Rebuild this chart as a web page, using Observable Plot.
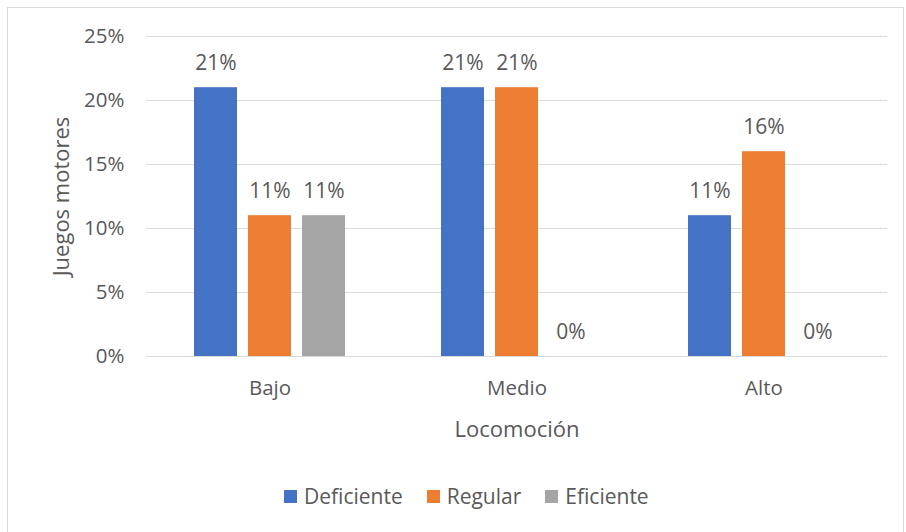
<!DOCTYPE html>
<html>
<head>
<meta charset="utf-8">
<script src="https://cdn.jsdelivr.net/npm/d3@7"></script>
<script src="https://cdn.jsdelivr.net/npm/@observablehq/plot@0.6"></script>
<style>
  html, body { margin: 0; padding: 0; background: #fff; }
  body { width: 906px; height: 532px; position: relative; overflow: hidden; font-family: "Open Sans", sans-serif; }
  #frame { position: absolute; left: 7px; top: 7px; width: 897px; height: 530px; border: 1px solid #d9d9d9; box-sizing: border-box; }
  #chart { position: absolute; left: 0; top: 0; }
  #legend { position: absolute; left: 284px; top: 482px; display: flex; align-items: center; font-size: 21px; color: #595959; white-space: nowrap; }
  #legend span.item { display: flex; align-items: center; margin-right: 24px; }
  #legend span.sw { display: inline-block; width: 13px; height: 13px; margin-right: 7px; }
  #chart svg [aria-label="fx-axis label"] text, #chart svg [aria-label="y-axis label"] text { font-size: 22px; }
</style>
</head>
<body>
<div id="frame"></div>
<div id="chart"></div>
<div id="legend"></div>
<script>
const categories = ["Bajo", "Medio", "Alto"];
const series = ["Deficiente", "Regular", "Eficiente"];
const deficiente = [0.21, 0.21, 0.11];
const regular = [0.11, 0.21, 0.16];
const eficiente = [0.11, 0.00, 0.00];
const valueLabels = [["21%", "21%", "11%"], ["11%", "21%", "16%"], ["11%", "0%", "0%"]];
const yTicks = [0, 0.05, 0.10, 0.15, 0.20, 0.25];
const colors = ["#4472C4", "#ED7D31", "#A5A5A5"];

const seriesValues = [deficiente, regular, eficiente];
const data = [];
categories.forEach((c, i) => {
  series.forEach((s, j) => {
    data.push({cat: c, ser: s, value: seriesValues[j][i], label: valueLabels[j][i]});
  });
});

const chart = Plot.plot({
  width: 906,
  height: 470,
  marginLeft: 145,
  marginRight: 19,
  marginTop: 36,
  marginBottom: 114,
  style: {fontFamily: "'Open Sans', sans-serif", fontSize: "20.5px", color: "#595959", background: "transparent"},
  fx: {domain: categories, padding: 0, tickSize: 0, tickPadding: 24, label: "Locomoción", labelAnchor: "center", labelOffset: 80, axis: "bottom"},
  x: {domain: series, paddingInner: 0.208, paddingOuter: 0.86, axis: null},
  y: {domain: [0, 0.25], ticks: yTicks, tickFormat: d3.format(".0%"), tickSize: 0, tickPadding: 22, grid: false, label: "Juegos motores", labelArrow: "none", labelAnchor: "center", labelOffset: 93},
  color: {domain: series, range: colors},
  marks: [
    Plot.ruleY(yTicks, {stroke: "#d9d9d9", strokeWidth: 1}),
    Plot.barY(data, {fx: "cat", x: "ser", y: "value", fill: "ser"}),
    Plot.text(data, {fx: "cat", x: "ser", y: "value", text: "label", dy: -24, fill: "#595959", fontSize: 21})
  ]
});
document.getElementById("chart").appendChild(chart);
chart.querySelectorAll('[aria-label="y-axis label"] text').forEach(t => {
  t.textContent = t.textContent.replace(/\s*[↑→]\s*$/, "");
});

const legend = document.getElementById("legend");
series.forEach((s, j) => {
  const item = document.createElement("span");
  item.className = "item";
  const sw = document.createElement("span");
  sw.className = "sw";
  sw.style.background = colors[j];
  item.appendChild(sw);
  item.appendChild(document.createTextNode(s));
  legend.appendChild(item);
});
</script>
</body>
</html>
